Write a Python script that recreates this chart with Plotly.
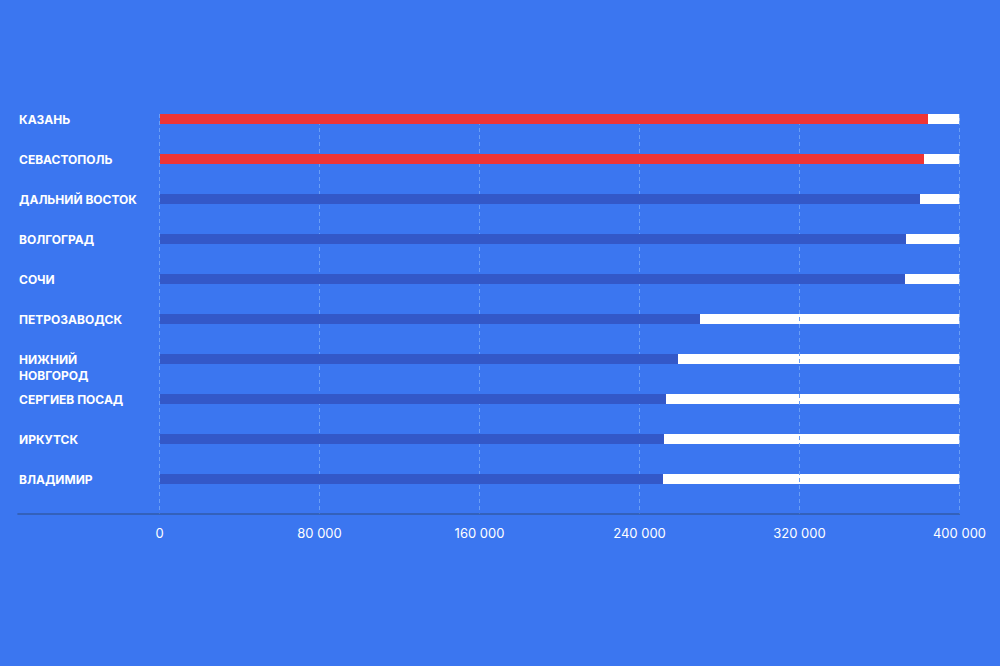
import plotly.graph_objects as go

cities = ["КАЗАНЬ", "СЕВАСТОПОЛЬ", "ДАЛЬНИЙ ВОСТОК", "ВОЛГОГРАД", "СОЧИ",
          "ПЕТРОЗАВОДСК", "НИЖНИЙ<br>НОВГОРОД", "СЕРГИЕВ ПОСАД", "ИРКУТСК", "ВЛАДИМИР"]
values = [384000, 382000, 380000, 373000, 372500, 270000, 259000, 253000, 252000, 251500]
colors = ["#ee3535", "#ee3535"] + ["#3358c8"] * 8
max_value = 400000
tick_vals = [0, 80000, 160000, 240000, 320000, 400000]
tick_text = ["0", "80 000", "160 000", "240 000", "320 000", "400 000"]

BG = "#3b76f0"
BAR_W = 0.25
Y_TOP, Y_BOTTOM = -0.125, 9.875
idx = list(range(len(cities)))

fig = go.Figure()
fig.add_trace(go.Bar(x=values, y=idx, orientation="h",
                     marker=dict(color=colors, line=dict(width=0)), width=BAR_W,
                     showlegend=False))

# white remainder tracks (value -> max), drawn beneath the grid lines
for i, v in zip(idx, values):
    fig.add_shape(type="rect", xref="x", yref="y", x0=v, x1=max_value,
                  y0=i - BAR_W / 2, y1=i + BAR_W / 2, layer="below",
                  fillcolor="white", line=dict(width=0))

# dashed vertical grid lines (above tracks, below bars)
for t in tick_vals:
    fig.add_shape(type="line", xref="x", yref="y", x0=t, x1=t, y0=Y_TOP, y1=Y_BOTTOM,
                  layer="between", line=dict(color="#6a9ef6", width=1, dash="4px,3px"))

L, R = 159.5, 960
W = R - L
for i, c in enumerate(cities):
    two = "<br>" in c
    fig.add_annotation(x=(18 - L) / W, xref="paper", y=i, yref="y",
                       text="<b>" + c + "</b>", showarrow=False,
                       xanchor="left", yanchor="top" if two else "middle",
                       yshift=9 if two else 0, align="left",
                       font=dict(family="Inter, Open Sans, sans-serif", size=12, color="white"))

fig.add_shape(type="line", xref="paper", yref="paper", x0=(18 - L) / W, x1=1, y0=0, y1=0,
              layer="above", line=dict(color="#2d4d86", width=1.2))

fig.update_layout(
    width=1000, height=666,
    paper_bgcolor=BG, plot_bgcolor=BG,
    barmode="overlay", bargap=0,
    margin=dict(l=159, r=39.5, t=114, b=152),
    xaxis=dict(range=[-250, max_value + 250], tickvals=tick_vals, ticktext=tick_text,
               showgrid=False, zeroline=False, showline=False,
               ticks="outside", ticklen=7, tickcolor="rgba(0,0,0,0)",
               tickfont=dict(family="Inter, Open Sans, sans-serif", size=13, color="white"),
               fixedrange=True),
    yaxis=dict(range=[Y_BOTTOM, Y_TOP], showgrid=False, zeroline=False,
               showticklabels=False, fixedrange=True),
)

fig.write_html("out.html", config={"displayModeBar": False},
               post_script="document.body.style.margin='0';")
